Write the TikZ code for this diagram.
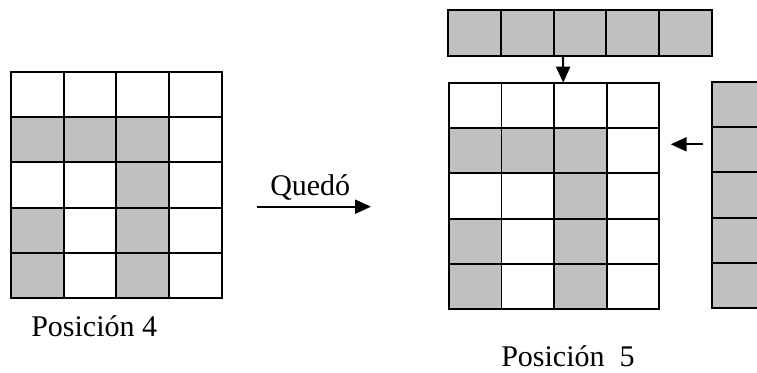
\documentclass[tikz,border=0pt]{standalone}
\usepackage{fontspec}
\setmainfont{Liberation Serif}
\usetikzlibrary{arrows.meta}
\definecolor{cellgray}{HTML}{C0C0C0}
\tikzset{
  cell/.style={draw=black, line width=1.4pt, minimum width=39.5pt, minimum height=34pt, inner sep=0pt, outer sep=0pt},
  arr/.style={line width=1.6pt, -{Triangle[length=12pt,width=10.5pt]}},
  lbl/.style={anchor=base west, inner sep=0pt, font=\fontsize{22.5}{27}\selectfont}
}
\begin{document}
\begin{tikzpicture}[x=0.75pt,y=-0.75pt]
\useasboundingbox (0,0) rectangle (757,373);
% left grid (Posición 4)
\foreach \r/\a/\b/\c/\d in {1/white/white/white/white,2/cellgray/cellgray/cellgray/white,3/white/white/cellgray/white,4/cellgray/white/cellgray/white,5/cellgray/white/cellgray/white}{
  \foreach \col/\f in {1/\a,2/\b,3/\c,4/\d}{
    \node[cell,fill=\f] (L-\r-\col) at ({11+52.67*(\col-0.5)},{71.7+45.32*(\r-0.5)}) {};
  }
}
% right grid (Posición 5)
\foreach \r/\a/\b/\c/\d in {1/white/white/white/white,2/cellgray/cellgray/cellgray/white,3/white/white/cellgray/white,4/cellgray/white/cellgray/white,5/cellgray/white/cellgray/white}{
  \foreach \col/\f in {1/\a,2/\b,3/\c,4/\d}{
    \node[cell,fill=\f] (R-\r-\col) at ({449+52.58*(\col-0.5)},{82.7+45.32*(\r-0.5)}) {};
  }
}
% top strip
\foreach \col in {1,...,5}{
  \node[cell,fill=cellgray,minimum height=34.3pt] (T-\col) at ({448.3+52.68*(\col-0.5)},32.85) {};
}
% right strip
\foreach \r in {1,...,5}{
  \node[cell,fill=cellgray] (S-\r) at ({711.7+52.6*0.5},{81.7+45.32*(\r-0.5)}) {};
}
% arrows
\draw[arr] ([xshift=-12.75pt]T-3.south) -- ([xshift=-12.9pt]R-1-3.north);
\coordinate (la1) at (703.3,144.3);
\coordinate (la2) at (670.7,144.3);
\draw[arr] (la1) -- (la2);
\coordinate (qa1) at (257.3,206.7);
\coordinate (qa2) at (371,206.7);
\draw[arr] (qa1) -- (qa2);
% labels
\node[lbl] (quedo) at (270,196) {Quedó};
\node[lbl] (pos4) at (31,336.7) {Posición 4};
\node[lbl] (pos5) at (501,366.7) {Posición\ \ 5};
\end{tikzpicture}
\end{document}
